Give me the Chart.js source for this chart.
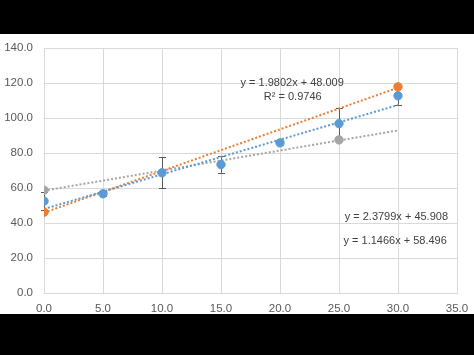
<!DOCTYPE html>
<html>
<head>
<meta charset="utf-8">
<script src="https://cdn.jsdelivr.net/npm/chart.js@4.4.1/dist/chart.umd.min.js"></script>
<style>
  html, body { margin: 0; padding: 0; background: #000; }
  body { width: 474px; height: 355px; position: relative; overflow: hidden; }
  #wrap { position: absolute; left: 0; top: 34px; width: 474px; height: 280px; background: #fff; }
  canvas { display: block; }
</style>
</head>
<body>
<div id="wrap"><canvas id="c" width="474" height="280"></canvas></div>
<script>
// ---- data ----
const blueX = [0, 5, 10, 15, 20, 25, 30];
const blueY = [52.5, 56.7, 68.7, 73.4, 85.8, 96.8, 112.7];
const blueErr = [5, 1, 8.8, 4.7, 1, 9, 5];

const orangeX = [0, 30];
const orangeY = [46.2, 117.8];

const grayX = [0, 25];
const grayY = [58.7, 87.5];

// trendline equations as printed on the chart
const trendSlopes = [1.9802, 2.3799, 1.1466];
const trendIntercepts = [48.009, 45.908, 58.496];
const trendRange = [0, 30];
const trendLabels = ["y = 1.9802x + 48.009", "y = 2.3799x + 45.908", "y = 1.1466x + 58.496"];
const r2Label = "R\u00B2 = 0.9746";

const xTicks = [0, 5, 10, 15, 20, 25, 30, 35];
const yTicks = [0, 20, 40, 60, 80, 100, 120, 140];

const BLUE = '#5B9BD5', ORANGE = '#ED7D31', GRAY = '#A5A5A5';
const trendColors = [BLUE, ORANGE, GRAY];

const pts = (xs, ys) => xs.map((x, i) => ({x: x, y: ys[i]}));
const trendPts = (k) => trendRange.map(x => ({x: x, y: trendSlopes[k] * x + trendIntercepts[k]}));

const datasets = [];
[0, 1, 2].forEach(k => {
  datasets.push({
    type: 'line', data: trendPts(k), borderColor: trendColors[k], borderWidth: 2,
    borderDash: [2, 2], pointRadius: 0, fill: false, showLine: true, order: 5
  });
});
datasets.push({ data: pts(grayX, grayY), backgroundColor: GRAY, borderColor: GRAY, pointRadius: 4.2, order: 3 });
datasets.push({ data: pts(blueX, blueY), backgroundColor: BLUE, borderColor: BLUE, pointRadius: 4.2, order: 2 });
datasets.push({ data: pts(orangeX, orangeY), backgroundColor: ORANGE, borderColor: ORANGE, pointRadius: 4.2, order: 1 });

// label anchor points in data units
const labelAnchors = [
  {text: trendLabels[0], x: 21.03, y: 119.9},
  {text: r2Label, x: 21.08, y: 112.2},
  {text: trendLabels[1], x: 29.86, y: 43.2},
  {text: trendLabels[2], x: 29.76, y: 29.9}
];

const errorBars = {
  id: 'errorBars',
  beforeDatasetsDraw(chart) {
    const ctx = chart.ctx, xs = chart.scales.x, ys = chart.scales.y;
    ctx.save();
    ctx.strokeStyle = '#595959';
    ctx.lineWidth = 1;
    blueX.forEach((x, i) => {
      const px = Math.round(xs.getPixelForValue(x)) + 0.5;
      const top = ys.getPixelForValue(blueY[i] + blueErr[i]);
      const bot = ys.getPixelForValue(blueY[i] - blueErr[i]);
      ctx.beginPath();
      ctx.moveTo(px, top); ctx.lineTo(px, bot);
      ctx.moveTo(px - 3.5, Math.round(top) + 0.5); ctx.lineTo(px + 3.5, Math.round(top) + 0.5);
      ctx.moveTo(px - 3.5, Math.round(bot) + 0.5); ctx.lineTo(px + 3.5, Math.round(bot) + 0.5);
      ctx.stroke();
    });
    ctx.restore();
  },
  afterDatasetsDraw(chart) {
    const ctx = chart.ctx, xs = chart.scales.x, ys = chart.scales.y;
    ctx.save();
    ctx.font = '11px "Liberation Sans", Arial, sans-serif';
    ctx.fillStyle = '#404040';
    ctx.textAlign = 'center';
    ctx.textBaseline = 'middle';
    labelAnchors.forEach(l => {
      ctx.fillText(l.text, xs.getPixelForValue(l.x), ys.getPixelForValue(l.y));
    });
    ctx.restore();
  }
};

new Chart(document.getElementById('c'), {
  type: 'scatter',
  data: { datasets: datasets },
  options: {
    responsive: false,
    animation: false,
    events: [],
    layout: { padding: { left: 0, right: 17, top: 14, bottom: 0 } },
    plugins: { legend: { display: false }, tooltip: { enabled: false } },
    scales: {
      x: {
        type: 'linear', min: 0, max: 35,
        afterBuildTicks: s => { s.ticks = xTicks.map(v => ({value: v})); },
        afterFit: s => { s.height = 21; s.paddingLeft = 0; s.paddingRight = 0; },
        grid: { color: '#D9D9D9', lineWidth: 1, drawTicks: false },
        border: { color: '#D9D9D9' },
        ticks: { padding: 9, color: '#595959', font: { family: '"Liberation Sans", Arial, sans-serif', size: 11.5 },
                 callback: v => v.toFixed(1), maxRotation: 0 }
      },
      y: {
        type: 'linear', min: 0, max: 140,
        afterBuildTicks: s => { s.ticks = yTicks.map(v => ({value: v})); },
        afterFit: s => { s.width = 44; s.paddingTop = 0; s.paddingBottom = 0; },
        grid: { color: '#D9D9D9', lineWidth: 1, drawTicks: false },
        border: { color: '#D9D9D9' },
        ticks: { padding: 11, color: '#595959', font: { family: '"Liberation Sans", Arial, sans-serif', size: 11.5 },
                 callback: v => v.toFixed(1) }
      }
    }
  },
  plugins: [errorBars]
});
</script>
</body>
</html>
